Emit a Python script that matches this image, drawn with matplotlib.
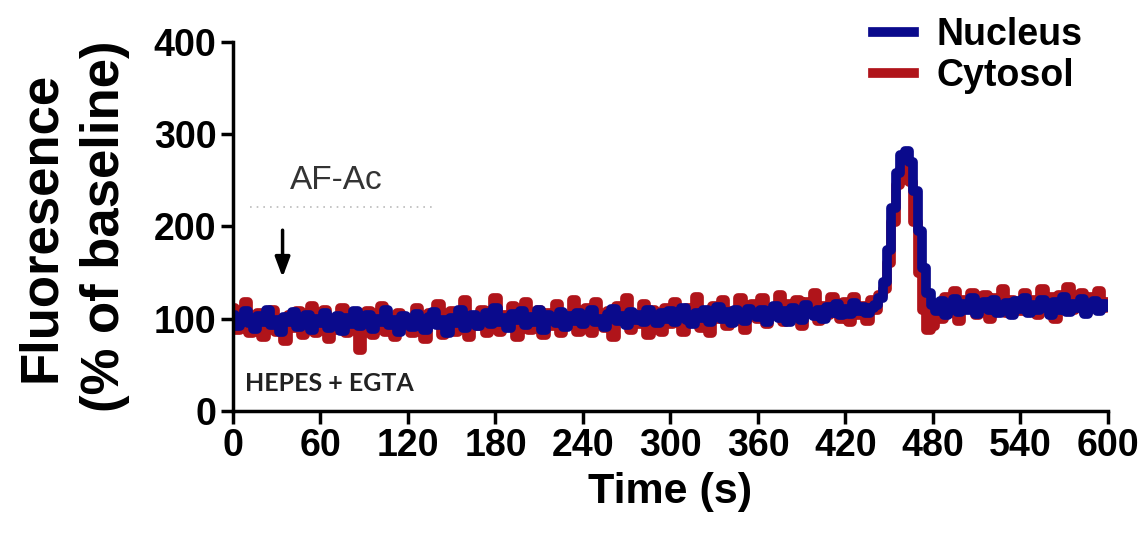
import numpy as np
import matplotlib.pyplot as plt

# time axis: one sample every 3 s, 0 to 600 s
time_s = np.arange(0, 601, 3)

# each row holds 20 samples (60 s)
nucleus = [
    104, 92, 101, 108, 95, 89, 103, 97, 110, 93, 99, 86, 102, 96, 107, 91, 98, 104, 88, 100,
    95, 106, 90, 99, 103, 87, 101, 94, 108, 92, 97, 104, 89, 100, 96, 110, 93, 99, 86, 103,
    98, 91, 105, 96, 88, 102, 107, 93, 99, 85, 101, 95, 109, 90, 97, 104, 92, 100, 106, 94,
    112, 96, 101, 90, 105, 99, 108, 93, 102, 97, 110, 88, 104, 100, 95, 107, 91, 103, 98, 106,
    94, 102, 109, 96, 100, 91, 105, 111, 98, 103, 93, 107, 99, 104, 96, 110, 101, 95, 106, 100,
    108, 97, 103, 112, 99, 94, 106, 101, 110, 96, 104, 113, 100, 107, 95, 109, 103, 98, 111, 105,
    102, 110, 97, 106, 114, 101, 108, 96, 112, 105, 99, 115, 107, 103, 110, 100, 113, 106, 116, 104,
    111, 105, 117, 108, 113, 106, 112, 115, 122, 140, 175, 220, 258, 278, 282, 270, 238, 195, 155, 128,
    115, 108, 119, 104, 112, 121, 107, 116, 110, 123, 105, 114, 118, 109, 120, 106, 113, 117, 104, 119,
    111, 122, 106, 115, 109, 120, 113, 104, 118, 110, 124, 107, 116, 112, 121, 105, 114, 119, 108, 116,
    113,
]

cytosol = [
    112, 88, 100, 118, 84, 95, 106, 80, 98, 110, 86, 92, 76, 104, 90, 108, 82, 97, 114, 85,
    92, 110, 78, 100, 88, 112, 84, 96, 104, 66, 90, 108, 82, 98, 114, 86, 94, 80, 106, 92,
    100, 84, 112, 90, 78, 106, 96, 116, 82, 98, 108, 86, 94, 120, 80, 102, 92, 110, 84, 100,
    122, 86, 104, 94, 114, 80, 100, 118, 88, 96, 110, 82, 106, 92, 116, 84, 102, 98, 120, 86,
    96, 112, 84, 118, 100, 90, 108, 80, 114, 98, 122, 88, 104, 94, 116, 82, 110, 100, 86, 112,
    94, 118, 102, 86, 112, 96, 124, 90, 106, 84, 114, 100, 120, 92, 108, 98, 122, 88, 110, 116,
    100, 122, 94, 112, 106, 126, 96, 116, 102, 120, 92, 118, 108, 128, 98, 114, 104, 124, 110, 100,
    118, 96, 124, 104, 114, 98, 120, 110, 126, 132, 160, 205, 245, 262, 265, 248, 205, 150, 110, 88,
    92, 116, 100, 124, 106, 130, 98, 120, 112, 128, 104, 118, 126, 100, 122, 110, 132, 106, 120, 114,
    108, 128, 112, 120, 104, 132, 116, 124, 100, 126, 118, 134, 110, 122, 128, 106, 124, 116, 130, 112,
    118,
]

x_ticks = list(range(0, 601, 60))
y_ticks = [0, 100, 200, 300, 400]

BLUE = "#0a0a8c"
RED = "#b0141a"

plt.rcParams["font.family"] = ["Liberation Sans", "DejaVu Sans"]

fig = plt.figure(figsize=(11.46, 5.38), dpi=100, facecolor="white")
ax = fig.add_axes([0.2033, 0.2361, 0.7635, 0.6858])

ax.plot(time_s, cytosol, color=RED, lw=7, label="Cytosol", zorder=2,
        drawstyle="steps-mid")
ax.plot(time_s, nucleus, color=BLUE, lw=7, label="Nucleus", zorder=3,
        drawstyle="steps-mid")

ax.set_xlim(0, 600)
ax.set_ylim(0, 400)
ax.set_xticks(x_ticks)
ax.set_yticks(y_ticks)
ax.spines["top"].set_visible(False)
ax.spines["right"].set_visible(False)
for side in ("left", "bottom"):
    ax.spines[side].set_linewidth(2.5)
    ax.spines[side].set_zorder(4)
ax.tick_params(axis="both", direction="out", width=2.5, length=9, labelsize=27, pad=3)
for lab in ax.get_xticklabels() + ax.get_yticklabels():
    lab.set_fontweight("bold")

ax.set_xlabel("Time (s)", fontsize=31, fontweight="bold", labelpad=6)
ax.set_ylabel("Fluoresence\n(% of baseline)", fontsize=38, fontweight="bold",
              labelpad=17, linespacing=1.35)

# legend, nucleus on top
handles, labels = ax.get_legend_handles_labels()
leg = ax.legend(handles[::-1], labels[::-1], loc="upper right", bbox_to_anchor=(1.01, 1.16),
                frameon=False, handlelength=1.1, handletextpad=0.6, labelspacing=0.15,
                prop={"size": 27, "weight": "bold"})
for line in leg.get_lines():
    line.set_linewidth(7)

# annotations
ax.text(71, 250, "AF-Ac", fontsize=24, color="#333333", ha="center", va="center")
ax.plot([12, 138], [221, 221], ls=(0, (1, 3)), color="#bbbbbb", lw=1.2)
ax.annotate("", xy=(34, 142), xytext=(34, 199),
            arrowprops=dict(arrowstyle="-|>,head_length=1.2,head_width=0.45",
                            color="black", lw=2.5))
ax.text(8, 30, "HEPES + EGTA", fontsize=18, fontweight="bold", color="#222222",
        family=["Lato", "DejaVu Sans"], ha="left", va="center")

fig.savefig("out.png", dpi=100, facecolor="white")
